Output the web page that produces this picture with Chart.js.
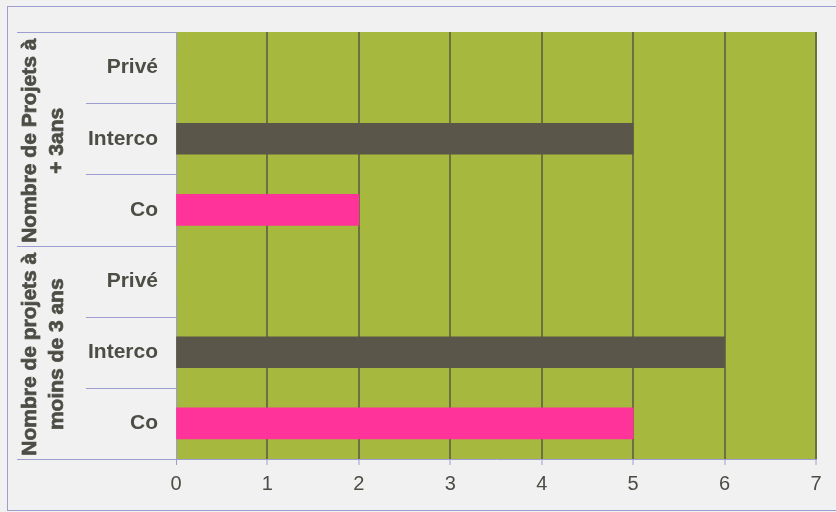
<!DOCTYPE html>
<html>
<head>
<meta charset="utf-8">
<script src="https://cdn.jsdelivr.net/npm/chart.js@4"></script>
<style>
  html, body { margin: 0; padding: 0; background: #f1f1f1; }
  #wrap { width: 836px; height: 512px; position: relative; }
</style>
</head>
<body>
<div id="wrap"><canvas id="myChart" width="836" height="512"></canvas></div>
<script>
// categories, top to bottom
const labels = ["Privé", "Interco", "Co", "Privé", "Interco", "Co"];
const values = [0, 5, 2, 0, 6, 5];
const groups = [
  ["Nombre de Projets à", "+ 3ans"],
  ["Nombre de projets à", "moins de 3 ans"]
];
const xTicks = [0, 1, 2, 3, 4, 5, 6, 7];

const COLORS = {
  Privé: '#a7b83e',
  Interco: '#5a5649',
  Co: '#ff3399'
};
const LINE = '#9d9dd1';
const TEXT = '#4d4d46';

const bgPlugin = {
  id: 'bgPlugin',
  beforeDraw(chart) {
    const ctx = chart.ctx;
    const a = chart.chartArea;
    ctx.save();
    ctx.fillStyle = '#f1f1f1';
    ctx.fillRect(0, 0, chart.width, chart.height);
    ctx.strokeStyle = LINE;
    ctx.lineWidth = 1;
    ctx.strokeRect(7.5, 6.5, 830, 504);
    ctx.fillStyle = '#a7b83e';
    ctx.fillRect(a.left, a.top, a.right - a.left, a.bottom - a.top);
    ctx.restore();
  },
  afterDraw(chart) {
    const ctx = chart.ctx;
    const y = chart.scales.y;
    const a = chart.chartArea;
    const step = y.getPixelForValue(1) - y.getPixelForValue(0);
    ctx.save();
    ctx.strokeStyle = LINE;
    ctx.lineWidth = 1;
    // separators in label area
    for (let i = 0; i <= labels.length; i++) {
      const py = Math.round(y.getPixelForValue(i) - step / 2) + 0.5;
      const x0 = (i % 3 === 0) ? 17 : 86;
      ctx.beginPath();
      ctx.moveTo(x0, py);
      ctx.lineTo(a.left, py);
      ctx.stroke();
    }
    // group labels (rotated, bold)
    ctx.fillStyle = TEXT;
    ctx.strokeStyle = TEXT;
    ctx.lineWidth = 0.7;
    ctx.font = '700 21px "Liberation Sans", Arial, sans-serif';
    ctx.textAlign = 'center';
    ctx.textBaseline = 'middle';
    groups.forEach((g, gi) => {
      const cy = (y.getPixelForValue(gi * 3) + y.getPixelForValue(gi * 3 + 2)) / 2 + 2;
      ctx.save();
      ctx.translate(44, cy);
      ctx.rotate(-Math.PI / 2);
      ctx.fillText(g[0], 0, -13.5);
      ctx.strokeText(g[0], 0, -13.5);
      ctx.fillText(g[1], 0, 13.5);
      ctx.strokeText(g[1], 0, 13.5);
      ctx.restore();
    });
    ctx.restore();
  }
};

const data = {
  labels: labels,
  datasets: [{
    data: values,
    backgroundColor: labels.map(l => COLORS[l]),
    barThickness: 31,
    borderWidth: 0
  }]
};

const config = {
  type: 'bar',
  data: data,
  options: {
    indexAxis: 'y',
    responsive: false,
    animation: false,
    layout: { padding: { top: 32, right: 20, left: 0, bottom: 0 } },
    plugins: {
      legend: { display: false },
      tooltip: { enabled: false }
    },
    scales: {
      x: {
        min: 0,
        max: 7,
        afterBuildTicks: (scale) => { scale.ticks = xTicks.map(v => ({ value: v })); },
        afterFit: (scale) => { scale.height = 53; },
        border: { color: LINE, width: 1 },
        grid: {
          color: (c) => c.tick && c.tick.value === 0 ? LINE : '#6d7040',
          lineWidth: (c) => c.tick && c.tick.value === 0 ? 1 : 2,
          tickColor: LINE,
          tickLength: 6,
          tickWidth: 1
        },
        ticks: {
          color: TEXT,
          padding: 7,
          font: { size: 20, family: '"Liberation Sans", Arial, sans-serif' }
        }
      },
      y: {
        afterFit: (scale) => { scale.width = 176; },
        border: { color: LINE, width: 1 },
        grid: { display: false, drawTicks: false },
        ticks: {
          color: TEXT,
          padding: 18,
          font: { size: 21, weight: 'bold', family: '"Liberation Sans", Arial, sans-serif' }
        }
      }
    }
  },
  plugins: [bgPlugin]
};

const myChart = new Chart(document.getElementById('myChart'), config);
</script>
</body>
</html>
